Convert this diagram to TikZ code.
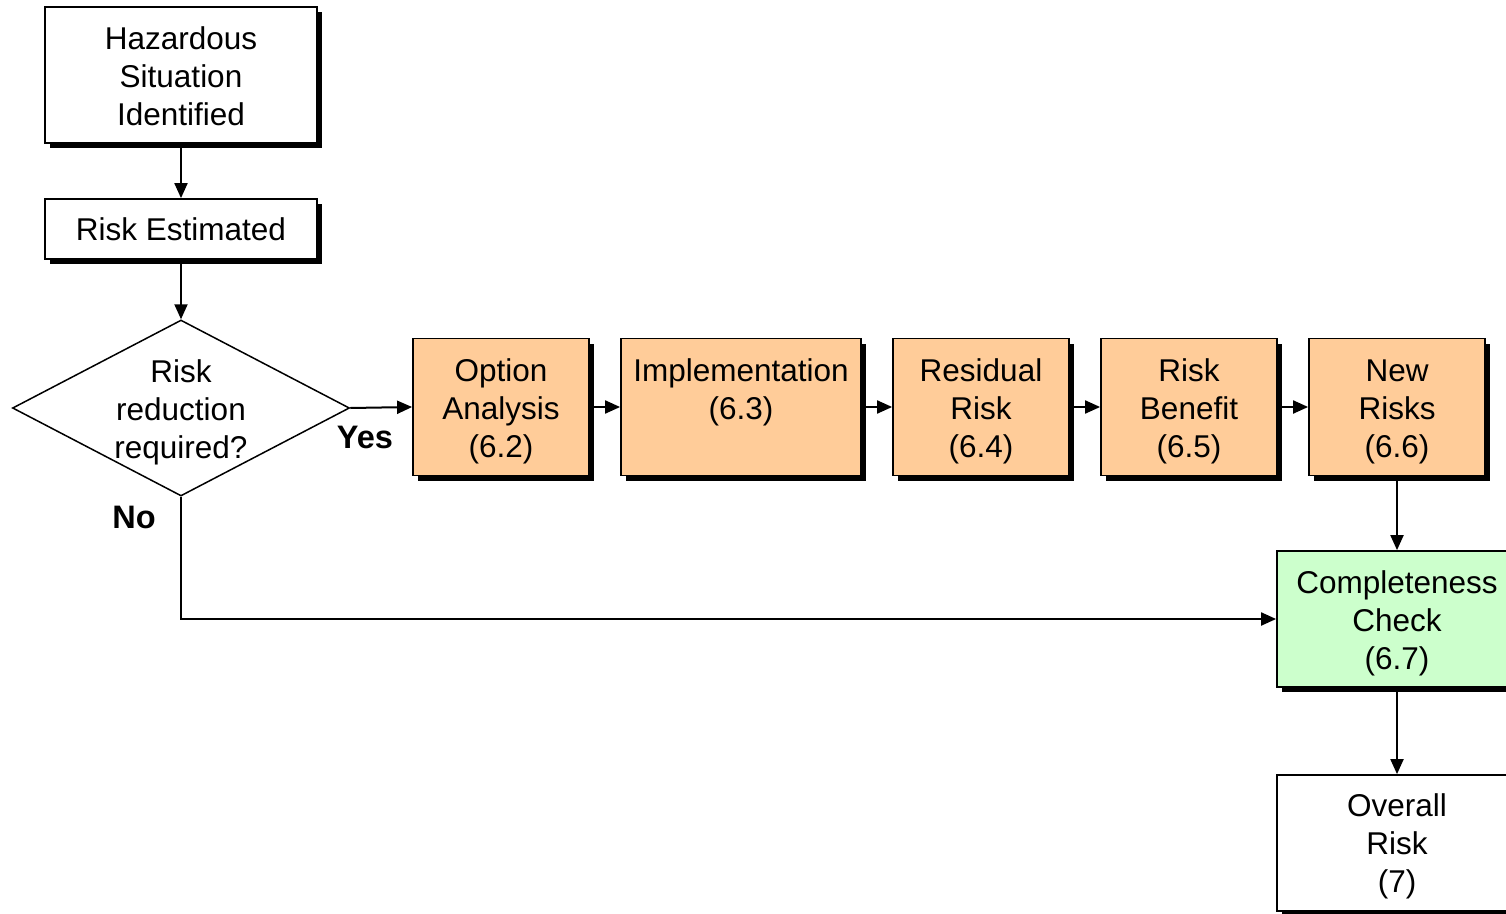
\documentclass[tikz,border=0pt]{standalone}
\usepackage{fontspec}
\setmainfont{Liberation Sans}
\usetikzlibrary{shapes.geometric,shadows,arrows.meta}
\definecolor{orangebox}{HTML}{FFCC99}
\definecolor{greenbox}{HTML}{CCFFCC}
\newcommand{\tfx}[1]{\rule{0pt}{#1}}
\begin{document}
\begin{tikzpicture}[x=1pt,y=-1pt,
  txt/.style={font=\fontsize{31.5}{38}\selectfont, align=center},
  shbox/.style={txt, draw=black, line width=1.8pt, rectangle, inner sep=0pt,
    drop shadow={shadow xshift=5pt, shadow yshift=-5pt, fill=black, opacity=1}},
  plainbox/.style={shbox, fill=white},
  orbox/.style={shbox, fill=orangebox, minimum width=176pt, minimum height=137pt},
  grbox/.style={shbox, fill=greenbox},
  conn/.style={line width=2pt, -{Triangle[length=15pt,width=13pt]}},
  lbl/.style={font=\fontsize{32.5}{38}\selectfont\bfseries}
]
\useasboundingbox[fill=white] (0,0) rectangle (1506,913);

\node[plainbox, minimum width=272pt, minimum height=136pt] (haz) at (181,75) {\tfx{25pt}Hazardous\\Situation\\Identified};
\node[plainbox, minimum width=272pt, minimum height=60pt] (est) at (181,229) {Risk Estimated};

\node[diamond, draw=black, line width=1.5pt, fill=white, inner sep=0pt, aspect=1.9,
  minimum width=337pt, minimum height=176pt] (dia) at (181,408) {};
\node[txt] (diat) at (181,410) {\tfx{27pt}Risk\\reduction\\required?};

\node[orbox] (opt) at (501,407) {\tfx{31pt}Option\\Analysis\\(6.2)};
\node[orbox, minimum width=240pt] (impl) at (741,407) {\tfx{31pt}Implementation\\(6.3)\\\phantom{(6.3)}};
\node[orbox] (res) at (981,407) {\tfx{31pt}Residual\\Risk\\(6.4)};
\node[orbox] (ben) at (1189,407) {\tfx{31pt}Risk\\Benefit\\(6.5)};
\node[orbox] (new) at (1397,407) {\tfx{31pt}New\\Risks\\(6.6)};

\node[grbox, minimum width=240pt, minimum height=136pt] (comp) at (1397,619) {\tfx{31pt}Completeness\\Check\\(6.7)};
\node[plainbox, minimum width=240pt, minimum height=136pt] (over) at (1397,843) {\tfx{29.5pt}Overall\\Risk\\(7)};

\node[lbl] (yes) at (365,437) {Yes};
\node[lbl] (no) at (134,517) {No};

\coordinate (corner) at (181,619);

\draw[conn] (haz.south) -- (est.north);
\draw[conn] (est.south) -- (dia.north);
\draw[conn] (dia.east) -- (opt.west);
\draw[conn] (opt.east) -- (impl.west);
\draw[conn] (impl.east) -- (res.west);
\draw[conn] (res.east) -- (ben.west);
\draw[conn] (ben.east) -- (new.west);
\draw[conn] (new.south) -- (comp.north);
\draw[conn] (dia.south) -- (corner) -- (comp.west);
\draw[conn] (comp.south) -- (over.north);
\end{tikzpicture}
\end{document}
